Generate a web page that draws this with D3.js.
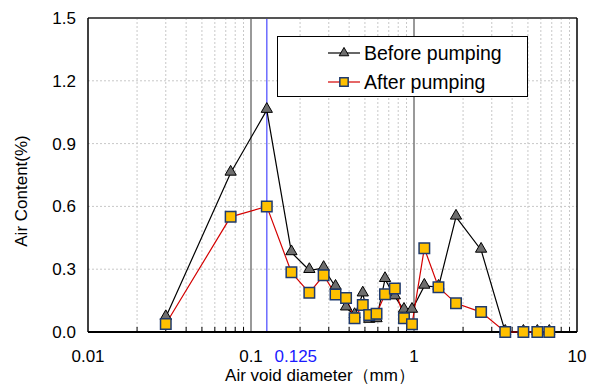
<!DOCTYPE html>
<html>
<head>
<meta charset="utf-8">
<script src="https://cdn.jsdelivr.net/npm/d3@7"></script>
<style>
  body { margin: 0; background: #fff; }
  svg { font-family: "Liberation Sans", Arial, sans-serif; }
</style>
</head>
<body>
<div id="chart"></div>
<script>
// air void diameter (mm)
var diameters = [0.030, 0.075, 0.125, 0.177, 0.228, 0.279, 0.330, 0.383, 0.432, 0.485, 0.531, 0.589,
                 0.664, 0.763, 0.868, 0.972, 1.157, 1.413, 1.81, 2.58, 3.63, 4.69, 5.71, 6.76];
var beforePumping = [0.07, 0.76, 1.06, 0.38, 0.295, 0.305, 0.215, 0.116, 0.08, 0.183, 0.057, 0.06,
                     0.252, 0.169, 0.105, 0.105, 0.22, 0.215, 0.55, 0.392, 0, 0, 0, 0];
var afterPumping = [0.038, 0.55, 0.60, 0.285, 0.187, 0.271, 0.179, 0.162, 0.066, 0.129, 0.081, 0.087,
                    0.18, 0.208, 0.066, 0.037, 0.40, 0.214, 0.137, 0.095, 0, 0, 0, 0];
var xTicks = [0.01, 0.1, 1, 10];
var xTickLabels = ["0.01", "0.1", "1", "10"];
var yTicks = [0, 0.3, 0.6, 0.9, 1.2, 1.5];
var seriesNames = ["Before pumping", "After pumping"];

var width = 592, height = 387;
var margin = {top: 18, right: 15, bottom: 55, left: 88};

var svg = d3.select("#chart").append("svg")
    .attr("width", width)
    .attr("height", height);

var x = d3.scaleLog()
    .domain([0.01, 10])
    .range([margin.left, width - margin.right]);

var y = d3.scaleLinear()
    .domain([0, 1.5])
    .range([height - margin.bottom, margin.top]);

// minor log grid
var minor = [];
[0.01, 0.1, 1].forEach(function(d){
    for (var k = 2; k <= 9; k++) minor.push(d * k);
});

var grid = svg.append("g");
grid.selectAll(".vg").data(minor).enter().append("line")
    .attr("x1", function(d){ return x(d); })
    .attr("x2", function(d){ return x(d); })
    .attr("y1", y(0))
    .attr("y2", y(1.5))
    .attr("stroke", "#c8c8c8")
    .attr("stroke-width", 1)
    .attr("stroke-dasharray", "2,2");

grid.selectAll(".hg").data(yTicks.slice(1, 5)).enter().append("line")
    .attr("x1", x(0.01))
    .attr("x2", x(10))
    .attr("y1", function(d){ return y(d); })
    .attr("y2", function(d){ return y(d); })
    .attr("stroke", "#c8c8c8")
    .attr("stroke-width", 1)
    .attr("stroke-dasharray", "2,2");

// minor ticks inside bottom axis
grid.selectAll(".mt").data(minor).enter().append("line")
    .attr("x1", function(d){ return x(d); })
    .attr("x2", function(d){ return x(d); })
    .attr("y1", y(0))
    .attr("y2", y(0) - 5)
    .attr("stroke", "#000")
    .attr("stroke-width", 1);

// decade lines
grid.selectAll(".dl").data([0.1, 1]).enter().append("line")
    .attr("x1", function(d){ return x(d); })
    .attr("x2", function(d){ return x(d); })
    .attr("y1", y(0))
    .attr("y2", y(1.5))
    .attr("stroke", "#777")
    .attr("stroke-width", 1.5);

// 0.125 mm line
svg.append("line")
    .attr("x1", x(0.125))
    .attr("x2", x(0.125))
    .attr("y1", y(0))
    .attr("y2", y(1.5))
    .attr("stroke", "#6b6bff")
    .attr("stroke-width", 1.5);

// frame
svg.append("line").attr("x1", x(0.01)).attr("x2", x(10)).attr("y1", y(1.5)).attr("y2", y(1.5))
    .attr("stroke", "#555").attr("stroke-width", 2);
svg.append("line").attr("x1", x(10)).attr("x2", x(10)).attr("y1", y(0)).attr("y2", y(1.5))
    .attr("stroke", "#000").attr("stroke-width", 1.5);
svg.append("line").attr("x1", x(0.01)).attr("x2", x(0.01)).attr("y1", y(0)).attr("y2", y(1.5))
    .attr("stroke", "#000").attr("stroke-width", 1.5);
svg.append("line").attr("x1", x(0.01)).attr("x2", x(10)).attr("y1", y(0)).attr("y2", y(0))
    .attr("stroke", "#000").attr("stroke-width", 2);

// tick labels
svg.selectAll(".xl").data(xTicks).enter().append("text")
    .attr("x", function(d){ return x(d); })
    .attr("y", y(0) + 30)
    .attr("text-anchor", "middle")
    .attr("font-size", 17)
    .attr("fill", "#000")
    .text(function(d, i){ return xTickLabels[i]; });

svg.append("text")
    .attr("x", x(0.125) + 29)
    .attr("y", y(0) + 30)
    .attr("text-anchor", "middle")
    .attr("font-size", 17)
    .attr("fill", "#1a1aff")
    .text("0.125");

svg.selectAll(".yl").data(yTicks).enter().append("text")
    .attr("x", 76)
    .attr("y", function(d){ return y(d) + 6; })
    .attr("text-anchor", "end")
    .attr("font-size", 17)
    .attr("fill", "#000")
    .text(function(d){ return d.toFixed(1); });

svg.append("text")
    .attr("x", 320)
    .attr("y", 381)
    .attr("text-anchor", "middle")
    .attr("font-size", 17)
    .text("Air void diameter（mm）");

svg.append("text")
    .attr("transform", "translate(27,191) rotate(-90)")
    .attr("text-anchor", "middle")
    .attr("font-size", 17)
    .text("Air Content(%)");

// lines
var line = function(vals){
    return d3.line()
        .x(function(d, i){ return x(diameters[i]); })
        .y(function(d){ return y(d); })(vals);
};

svg.append("path")
    .attr("d", line(beforePumping))
    .attr("fill", "none")
    .attr("stroke", "#000")
    .attr("stroke-width", 1.2);

svg.append("path")
    .attr("d", line(afterPumping))
    .attr("fill", "none")
    .attr("stroke", "#d40000")
    .attr("stroke-width", 1.2);

var tri = d3.symbol().type(d3.symbolTriangle).size(55);
var sq = d3.symbol().type(d3.symbolSquare).size(110);

svg.selectAll(".tri").data(beforePumping).enter().append("path")
    .attr("d", tri)
    .attr("transform", function(d, i){ return "translate(" + x(diameters[i]) + "," + (y(d) - 1) + ")"; })
    .attr("fill", "#6e6e6e")
    .attr("stroke", "#000")
    .attr("stroke-width", 1);

svg.selectAll(".sq").data(afterPumping).enter().append("path")
    .attr("d", sq)
    .attr("transform", function(d, i){ return "translate(" + x(diameters[i]) + "," + y(d) + ")"; })
    .attr("fill", "#ffc000")
    .attr("stroke", "#1f3a6e")
    .attr("stroke-width", 1.5);

// legend
var lg = svg.append("g");
lg.append("rect")
    .attr("x", 277.5).attr("y", 36.5)
    .attr("width", 250).attr("height", 60)
    .attr("fill", "#fff")
    .attr("stroke", "#000")
    .attr("stroke-width", 1);

var rows = [{y: 53, stroke: "#000", fill: "#6e6e6e", ms: "#000"},
            {y: 82, stroke: "#d40000", fill: "#ffc000", ms: "#1f3a6e"}];
rows.forEach(function(r, i){
    lg.append("line")
        .attr("x1", 328).attr("x2", 360)
        .attr("y1", r.y).attr("y2", r.y)
        .attr("stroke", r.stroke).attr("stroke-width", 1.2);
    lg.append("path")
        .attr("d", i == 0 ? d3.symbol().type(d3.symbolTriangle).size(40)() : d3.symbol().type(d3.symbolSquare).size(70)())
        .attr("transform", "translate(344," + r.y + ")")
        .attr("fill", r.fill)
        .attr("stroke", r.ms)
        .attr("stroke-width", i == 0 ? 1 : 1.5);
    lg.append("text")
        .attr("x", 364).attr("y", r.y + 7)
        .attr("font-size", 19.5)
        .text(seriesNames[i]);
});
</script>
</body>
</html>
